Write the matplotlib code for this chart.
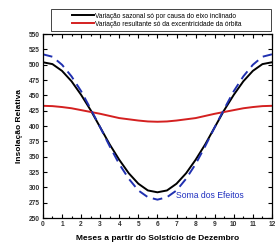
import matplotlib
matplotlib.use("Agg")
import matplotlib.pyplot as plt
from matplotlib.patches import Rectangle
from matplotlib.ticker import MultipleLocator

months = [0, 0.5, 1, 1.5, 2, 2.5, 3, 3.5, 4, 4.5, 5, 5.5, 6,
          6.5, 7, 7.5, 8, 8.5, 9, 9.5, 10, 10.5, 11, 11.5, 12]
tilt = [504, 501, 490, 473, 451, 426, 398, 370, 345, 323, 306, 295, 292,
        295, 306, 323, 345, 370, 398, 426, 451, 473, 490, 501, 504]
eccent = [433, 432.5, 431, 429, 426, 423, 420, 416.5, 413, 411, 409, 407.5, 407,
          407.5, 409, 411, 413, 416.5, 420, 423, 426, 429, 431, 432.5, 433]
total = [517, 513, 500, 481, 457, 428, 398, 367, 338, 314, 295, 284, 280,
         284, 295, 314, 338, 367, 398, 428, 457, 481, 500, 513, 517]

plt.rcParams['font.family'] = ['Liberation Sans', 'DejaVu Sans']

fig = plt.figure(figsize=(2.75, 2.45), dpi=100)
ax = fig.add_axes([0.156, 0.110, 0.833, 0.751])

l1, = ax.plot(months, tilt, color='black', lw=1.4,
              label='Variação sazonal só por causa do eixo inclinado')
l2, = ax.plot(months, eccent, color='#d42020', lw=1.4,
              label='Variação resultante só da excentricidade da órbita')
ax.plot(months, total, color='#2030b0', lw=1.4, ls=(0, (5, 3)))

ax.text(6.97, 286, 'Soma dos Efeitos', color='#2030c0', fontsize=6.2, va='center')

ax.set_xlim(0, 12)
ax.set_ylim(250, 550)
ax.xaxis.set_major_locator(MultipleLocator(1))
ax.xaxis.set_minor_locator(MultipleLocator(0.5))
ax.yaxis.set_major_locator(MultipleLocator(25))
ax.tick_params(which='both', direction='in', top=True, right=True,
               labelsize=4.8, width=0.8, pad=2)
ax.tick_params(which='major', length=3)
ax.tick_params(which='minor', length=1.5)
for lab in ax.get_xticklabels() + ax.get_yticklabels():
    lab.set_fontweight('bold')
    lab.set_color('#333333')
for s in ax.spines.values():
    s.set_linewidth(0.9)

ax.set_xlabel('Meses a partir do Solstício de Dezembro', fontsize=6,
              fontweight='bold', labelpad=5)
ax.set_ylabel('Insolação Relativa', fontsize=6, fontweight='bold', labelpad=4)

# legend box spans wider than the legend content
fig.patches.append(Rectangle((51 / 275, 1 - 31 / 245), 220 / 275, 22 / 245,
                             transform=fig.transFigure, fill=False,
                             edgecolor='#444444', lw=0.7))
fig.legend(handles=[l1, l2], loc='center', bbox_to_anchor=(0.57, 0.918),
           fontsize=4.8, frameon=False, handlelength=3.2, handletextpad=0.2,
           borderpad=0.3, labelspacing=0.15)

fig.savefig('out.png', dpi=100)
